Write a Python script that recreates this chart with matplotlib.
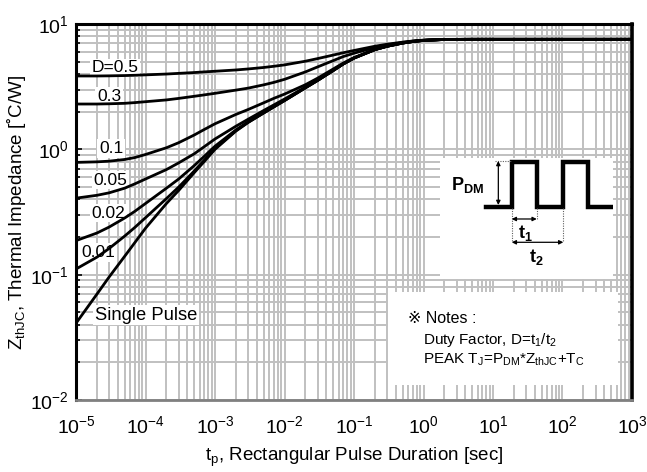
import matplotlib
matplotlib.use("Agg")
import matplotlib.pyplot as plt
from matplotlib.patches import Rectangle

plt.rcParams["font.family"] = ["Liberation Sans", "DejaVu Sans"]
plt.rcParams["mathtext.fontset"] = "custom"
plt.rcParams["mathtext.rm"] = "Liberation Sans"
plt.rcParams["mathtext.it"] = "Liberation Sans:italic"
plt.rcParams["mathtext.bf"] = "Liberation Sans:bold"

# Pulse duration [sec]
TP = [1e-5, 2e-5, 3e-5, 5e-5, 7e-5,
      1e-4, 2e-4, 3e-4, 5e-4, 7e-4,
      1e-3, 2e-3, 3e-3, 5e-3, 7e-3,
      1e-2, 2e-2, 3e-2, 5e-2, 7e-2,
      0.1, 0.2, 0.3, 0.5, 0.7,
      1, 2, 5, 10, 100, 1000]

# Zth(jc) [C/W] per duty factor
Z_D05 = [3.85, 3.85, 3.86, 3.88, 3.90,
         3.93, 3.99, 4.04, 4.10, 4.15,
         4.20, 4.30, 4.38, 4.50, 4.60,
         4.72, 5.05, 5.30, 5.65, 5.90,
         6.15, 6.65, 6.90, 7.17, 7.32,
         7.44, 7.54, 7.55, 7.55, 7.55, 7.55]
Z_D03 = [2.30, 2.30, 2.31, 2.33, 2.36,
         2.40, 2.48, 2.55, 2.65, 2.72,
         2.80, 2.97, 3.08, 3.27, 3.42,
         3.62, 4.15, 4.55, 5.10, 5.50,
         5.85, 6.50, 6.80, 7.12, 7.30,
         7.42, 7.54, 7.55, 7.55, 7.55, 7.55]
Z_D01 = [0.787, 0.795, 0.805, 0.83, 0.86,
         0.91, 1.03, 1.13, 1.30, 1.44,
         1.60, 1.90, 2.08, 2.35, 2.55,
         2.76, 3.28, 3.70, 4.37, 4.88,
         5.40, 6.27, 6.66, 7.06, 7.26,
         7.40, 7.53, 7.55, 7.55, 7.55, 7.55]
Z_D005 = [0.408, 0.43, 0.45, 0.49, 0.53,
          0.58, 0.69, 0.78, 0.92, 1.05,
          1.21, 1.53, 1.74, 2.04, 2.26,
          2.52, 3.14, 3.58, 4.26, 4.80,
          5.35, 6.25, 6.65, 7.05, 7.25,
          7.40, 7.53, 7.55, 7.55, 7.55, 7.55]
Z_D002 = [0.187, 0.215, 0.24, 0.283, 0.32,
          0.37, 0.49, 0.58, 0.74, 0.88,
          1.06, 1.43, 1.66, 1.96, 2.19,
          2.46, 3.10, 3.55, 4.25, 4.80,
          5.35, 6.25, 6.65, 7.05, 7.25,
          7.40, 7.53, 7.55, 7.55, 7.55, 7.55]
Z_D001 = [0.111, 0.138, 0.162, 0.203, 0.238,
          0.285, 0.405, 0.50, 0.67, 0.82,
          1.02, 1.41, 1.645, 1.95, 2.18,
          2.45, 3.10, 3.55, 4.25, 4.80,
          5.35, 6.25, 6.65, 7.05, 7.25,
          7.40, 7.53, 7.55, 7.55, 7.55, 7.55]
Z_SINGLE = [0.041, 0.070, 0.096, 0.140, 0.180,
            0.235, 0.37, 0.47, 0.65, 0.80,
            1.00, 1.40, 1.64, 1.95, 2.18,
            2.45, 3.10, 3.55, 4.25, 4.80,
            5.35, 6.25, 6.65, 7.05, 7.25,
            7.40, 7.53, 7.55, 7.55, 7.55, 7.55]

CURVES = [Z_D05, Z_D03, Z_D01, Z_D005, Z_D002, Z_D001, Z_SINGLE]

# curve labels: text, x, y (data coords)
LABELS = [
    ("D=0.5", 3.64e-5, 4.46),
    ("0.3", 2.98e-5, 2.66),
    ("0.1", 3.19e-5, 1.02),
    ("0.05", 3.14e-5, 0.569),
    ("0.02", 2.94e-5, 0.310),
    ("0.01", 2.07e-5, 0.150),
]

GRID = "#c0c0c0"

fig = plt.figure(figsize=(6.47, 4.72), dpi=100)
ax = fig.add_axes([0.1175, 0.1525, 0.8593, 0.7966])

for z in CURVES:
    ax.plot(TP, z, color="black", lw=2.0, zorder=3, solid_joinstyle="round")

ax.set_xscale("log")
ax.set_yscale("log")
ax.set_xlim(1e-5, 1e3)
ax.set_ylim(1e-2, 1e1)

ax.grid(True, which="both", color=GRID, lw=1.4, zorder=0)
ax.set_axisbelow(True)

ax.tick_params(axis="y", which="both", direction="in", left=True, right=False,
               color="black", width=1.2, labelsize=14, pad=5)
ax.tick_params(axis="y", which="major", length=4)
ax.tick_params(axis="y", which="minor", length=3)
ax.tick_params(axis="x", which="both", length=0, labelsize=14, pad=11)
ax.set_xticks([10.0 ** e for e in range(-5, 4)])
ax.set_yticks([1e-2, 1e-1, 1e0, 1e1])

for side in ("left", "top"):
    ax.spines[side].set_linewidth(2.2)
    ax.spines[side].set_color("black")
ax.spines["right"].set_linewidth(2.6)
ax.spines["right"].set_color("black")
ax.spines["bottom"].set_linewidth(2.0)
ax.spines["bottom"].set_color("#808080")

ax.set_xlabel(r"t$_\mathrm{p}$, Rectangular Pulse Duration [sec]", fontsize=13.5, labelpad=6)
ax.set_ylabel(r"Z$_\mathrm{thJC}$, Thermal Impedance [˚C/W]", fontsize=13.5, labelpad=2)

box = dict(boxstyle="square,pad=0.1", fc="white", ec="none")
for txt, x, y in LABELS:
    ax.text(x, y, txt, fontsize=12.5, ha="center", va="center", bbox=box, zorder=2.5)
ax.text(1.87e-5, 0.0476, "Single Pulse", fontsize=13.2, ha="left", va="center",
        bbox=box, zorder=2.5)

# notes box
ax.add_patch(Rectangle((0.561, 0.040), 0.414, 0.247, transform=ax.transAxes,
                       fc="white", ec="none", zorder=4))
ax.text(0.597, 0.218, "※ Notes :", transform=ax.transAxes, fontsize=11.5,
        va="center", zorder=5)
ax.text(0.624, 0.160, r"Duty Factor, D=t$_1$/t$_2$", transform=ax.transAxes,
        fontsize=11, va="center", zorder=5)
ax.text(0.624, 0.106, r"PEAK T$_\mathrm{J}$=P$_\mathrm{DM}$*Z$_\mathrm{thJC}$+T$_\mathrm{C}$",
        transform=ax.transAxes, fontsize=11, va="center", zorder=5)

# pulse schematic inset (units: pixels inside the inset box)
WAVE_X = [46, 71.7, 71.7, 96.7, 96.7, 123.3, 123.3, 148.3, 148.3, 171.7]
WAVE_Y = [48.7, 48.7, 4.5, 4.5, 48.7, 48.7, 4.5, 4.5, 48.7, 48.7]

ins = fig.add_axes([0.6801, 0.4089, 0.2674, 0.2564])
ins.set_xlim(0, 173)
ins.set_ylim(121, 0)
ins.set_facecolor("white")
ins.set_xticks([])
ins.set_yticks([])
for s in ins.spines.values():
    s.set_visible(False)

ins.plot(WAVE_X, WAVE_Y, color="black", lw=3.2, solid_joinstyle="miter")
arr = dict(arrowstyle="<|-|>", color="black", lw=0.9, mutation_scale=6,
           shrinkA=0, shrinkB=0)
ins.annotate("", xy=(58.3, 3), xytext=(58.3, 47), arrowprops=arr)
ins.annotate("", xy=(71.7, 61), xytext=(96.7, 61), arrowprops=arr)
ins.annotate("", xy=(71.7, 84.3), xytext=(123.3, 84.3), arrowprops=arr)
dot = dict(color="#606060", lw=0.8, ls=(0, (1, 1.2)))
ins.plot([55, 71], [3.2, 3.2], **dot)
ins.plot([71.7, 71.7], [50, 84.3], **dot)
ins.plot([96.7, 96.7], [50, 61], **dot)
ins.plot([123.3, 123.3], [50, 84.3], **dot)
ins.text(27.4, 27, r"$\mathbf{P_{DM}}$", fontsize=13, ha="center", va="center")
ins.text(85, 75, r"$\mathbf{t_1}$", fontsize=13, ha="center", va="center")
ins.text(96.7, 98.7, r"$\mathbf{t_2}$", fontsize=13, ha="center", va="center")

fig.savefig("out.png", dpi=100)
